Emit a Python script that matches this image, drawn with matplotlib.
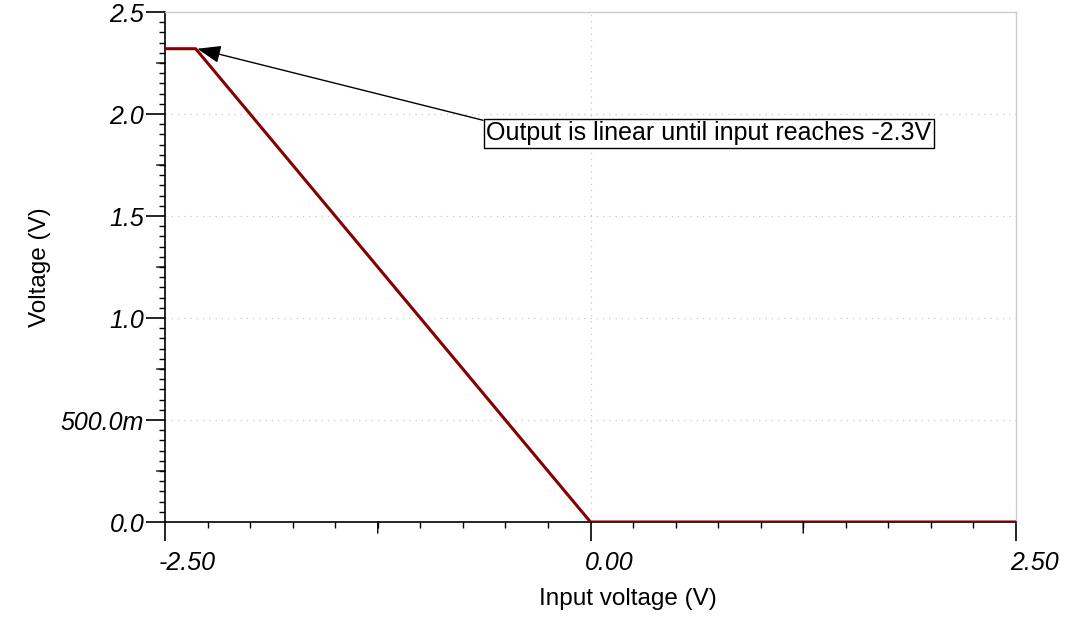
import numpy as np
import matplotlib
matplotlib.use("Agg")
import matplotlib.pyplot as plt
from matplotlib.ticker import MultipleLocator, FixedLocator
from matplotlib.transforms import ScaledTranslation

# Data
input_v = [-2.5, -2.32, 0.0, 2.5]
output_v = [2.32, 2.32, 0.0, 0.0]
x_ticks = [-2.5, 0.0, 2.5]
x_tick_labels = ["-2.50", "0.00", "2.50"]
y_ticks = [0.0, 0.5, 1.0, 1.5, 2.0, 2.5]
y_tick_labels = ["0.0", "500.0m", "1.0", "1.5", "2.0", "2.5"]
x_mid_ticks = [-1.25, 1.25]
y_mid_ticks = [0.25, 0.75, 1.25, 1.75, 2.25]
annot_text = "Output is linear until input reaches -2.3V"
annot_point = (-2.31, 2.32)

plt.rcParams['font.family'] = ['Liberation Sans', 'DejaVu Sans']

fig = plt.figure(figsize=(10.8, 6.36), dpi=100)
ax = fig.add_axes([165/1080, 1-522/636, (1016-165)/1080, (522-12)/636])

ax.plot(input_v, output_v, color='#870000', lw=2.2, solid_capstyle='butt', zorder=3)

ax.set_xlim(-2.5, 2.5)
ax.set_ylim(0, 2.5)

# spines
for s in ['top', 'right']:
    ax.spines[s].set_color('#cccccc')
    ax.spines[s].set_linewidth(1.0)
for s in ['left', 'bottom']:
    ax.spines[s].set_color('black')
    ax.spines[s].set_linewidth(1.2)

# grid
for y in [0.5, 1.0, 1.5, 2.0]:
    ax.axhline(y, color='#c8c8c8', lw=0.9, ls=(0, (1, 4)), zorder=1)
ax.axvline(0.0, color='#c8c8c8', lw=0.9, ls=(0, (1, 4)), zorder=1)

# ticks
ax.xaxis.set_major_locator(FixedLocator(x_ticks))
ax.set_xticklabels(x_tick_labels)
ax.yaxis.set_major_locator(FixedLocator(y_ticks))
ax.set_yticklabels(y_tick_labels)
ax.xaxis.set_minor_locator(MultipleLocator(0.25))
ax.yaxis.set_minor_locator(MultipleLocator(0.05))
ax.tick_params(axis='both', which='major', direction='out', length=14, width=1.2,
               labelsize=18, color='black')
ax.tick_params(axis='both', which='minor', direction='out', length=4, width=1.0, color='black')
ax.tick_params(axis='y', which='major', pad=1)
ax.tick_params(axis='x', which='major', pad=7)

# medium ticks
tx = ax.get_xaxis_transform()
for xv in x_mid_ticks:
    ax.annotate('', xy=(xv, 0), xycoords=tx, xytext=(0, -8), textcoords='offset points',
                arrowprops=dict(arrowstyle='-', lw=1.0, color='black', shrinkA=0, shrinkB=0),
                annotation_clip=False)
ty = ax.get_yaxis_transform()
for yv in y_mid_ticks:
    ax.annotate('', xy=(0, yv), xycoords=ty, xytext=(-6, 0), textcoords='offset points',
                arrowprops=dict(arrowstyle='-', lw=1.0, color='black', shrinkA=0, shrinkB=0),
                annotation_clip=False)

for lbl in ax.get_xticklabels():
    lbl.set_fontstyle('italic')
    lbl.set_horizontalalignment('left')
for lbl in ax.get_yticklabels():
    lbl.set_fontstyle('italic')

off = ScaledTranslation(-6/100, 0, fig.dpi_scale_trans)
for lbl in ax.get_xticklabels():
    lbl.set_transform(lbl.get_transform() + off)

ax.set_xlabel("Input voltage (V)", fontsize=17.5)
ax.set_ylabel("Voltage (V)", fontsize=17.5)
ax.xaxis.set_label_coords(0.544, -0.13)
ax.yaxis.set_label_coords(-0.134, 0.5)

ax.annotate(annot_text, xy=annot_point, xycoords='data',
            xytext=(486/1080, 1-121/636), textcoords='figure fraction',
            ha='left', va='top', fontsize=18,
            bbox=dict(boxstyle='square,pad=0.1', fc='white', ec='black', lw=1.0),
            arrowprops=dict(arrowstyle='-|>,head_length=0.8,head_width=0.3', color='black', lw=1.0,
                            shrinkA=0, shrinkB=0, relpos=(0, 1)))

fig.savefig("out.png", dpi=100)
